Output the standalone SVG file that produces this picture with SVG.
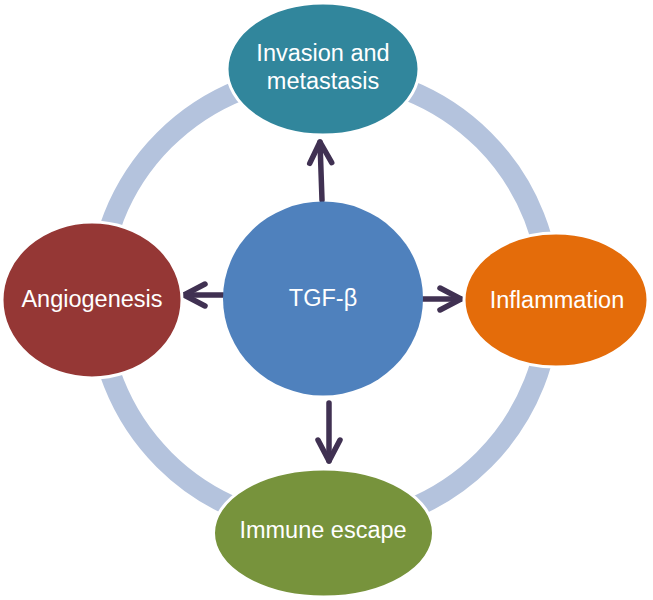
<svg xmlns="http://www.w3.org/2000/svg" width="653" height="600" viewBox="0 0 653 600">
<style>
.lbl{font-family:"Liberation Sans",Arial,sans-serif;font-size:23.5px;fill:#ffffff;text-anchor:middle}
.node{stroke:#ffffff;stroke-width:3}
.arr{stroke:#403152;stroke-width:5.5;fill:none;stroke-linecap:round;stroke-linejoin:round}
</style>
<defs>
<marker id="head" markerUnits="userSpaceOnUse" orient="auto" refX="0" refY="0" markerWidth="40" markerHeight="40" viewBox="-30 -20 40 40" overflow="visible">
<path d="M-21,-11 L0,0 L-21,11" fill="none" stroke="#403152" stroke-width="5.5" stroke-linecap="round" stroke-linejoin="round"/>
</marker>
</defs>
<rect width="653" height="600" fill="#ffffff"/>
<g id="ring">
<circle cx="324" cy="300" r="226" fill="none" stroke="#b4c3dd" stroke-width="21"/>
</g>
<g id="connectors">
<path class="arr" d="M322,200 L320,142" marker-end="url(#head)"/>
<path class="arr" d="M223,295 L184,295" marker-end="url(#head)"/>
<path class="arr" d="M423,299 L461,299" marker-end="url(#head)"/>
<path class="arr" d="M329,403 L329,461" marker-end="url(#head)"/>
</g>
<g id="invasion">
<ellipse class="node" cx="323" cy="69" rx="96" ry="66" fill="#31869c"/>
<text class="lbl" x="323" y="61">Invasion and</text>
<text class="lbl" x="323" y="89">metastasis</text>
</g>
<g id="angiogenesis">
<ellipse class="node" cx="92" cy="300" rx="90" ry="78" fill="#953735"/>
<text class="lbl" x="92" y="307">Angiogenesis</text>
</g>
<g id="inflammation">
<ellipse class="node" cx="556" cy="300" rx="92" ry="67" fill="#e46c0a"/>
<text class="lbl" x="557" y="308">Inflammation</text>
</g>
<g id="immune">
<ellipse class="node" cx="323.5" cy="533" rx="110" ry="64" fill="#77933c"/>
<text class="lbl" x="323" y="538">Immune escape</text>
</g>
<g id="tgf">
<ellipse cx="323" cy="298.5" rx="100" ry="97" fill="#4f81bd"/>
<text class="lbl" x="323" y="306">TGF-β</text>
</g>
</svg>
